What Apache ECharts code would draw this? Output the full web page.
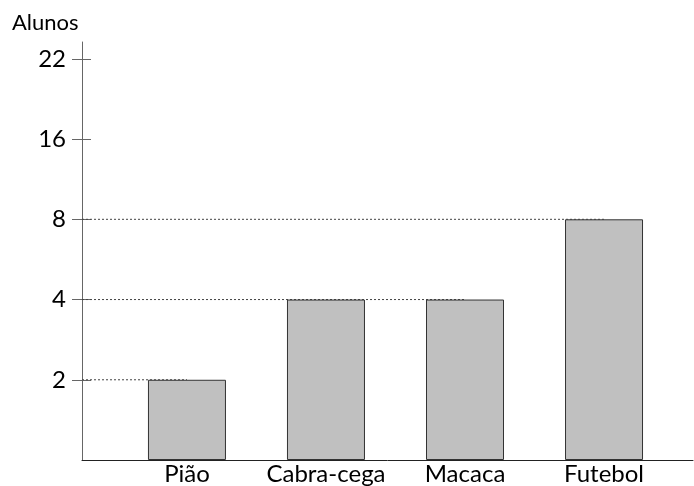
<!DOCTYPE html>
<html>
<head>
<meta charset="utf-8">
<script src="https://cdn.jsdelivr.net/npm/echarts@6/dist/echarts.min.js"></script>
<style>html,body{margin:0;padding:0;background:#fff;}#c{width:694px;height:486px;}</style>
</head>
<body>
<div id="c"></div>
<script>
const categories = ['Pião', 'Cabra-cega', 'Macaca', 'Futebol'];
const values = [2, 4, 4, 8];
const yTickLabels = [2, 4, 8, 16, 22];
const yAxisTitle = 'Alunos';

// the y axis is ordinal: each tick label sits one step above the previous
const levelOf = v => yTickLabels.indexOf(v) + 1;
const tickLevels = yTickLabels.map((v, i) => i + 1);

const X_MIN = -0.755, X_MAX = 3.64, Y_MAX = 5.21;
const FONT = 'Lato';

const barData = values.map((v, i) => [i, levelOf(v)]);

// dotted guides from the axis to the last bar that reaches each level
const guideSeries = [];
const seen = {};
values.forEach((v, i) => { seen[v] = i; });
Object.keys(seen).forEach(k => {
  const v = Number(k);
  guideSeries.push({
    type: 'line', silent: true, z: 1, symbol: 'none',
    lineStyle: { color: '#444', width: 1, type: [2, 2] },
    data: [[X_MIN, levelOf(v)], [seen[k], levelOf(v)]]
  });
});

const chart = echarts.init(document.getElementById('c'), null, { renderer: 'canvas' });
chart.setOption({
  animation: false,
  backgroundColor: '#fff',
  title: {
    text: yAxisTitle, left: 7, top: 7,
    textStyle: { fontFamily: FONT, fontSize: 22, fontWeight: 'normal', color: '#000' }
  },
  grid: { left: 82, right: 1, top: 42, bottom: 26 },
  xAxis: {
    type: 'value', min: X_MIN, max: X_MAX,
    splitLine: { show: false },
    axisLine: { show: true, onZero: false, lineStyle: { color: '#222', width: 1 } },
    axisTick: { show: false },
    axisLabel: {
      customValues: categories.map((c, i) => i),
      formatter: v => categories[Math.round(v)],
      color: '#000', fontFamily: FONT, fontSize: 24, margin: 2
    }
  },
  yAxis: [{
    type: 'value', min: 0, max: Y_MAX,
    splitLine: { show: false },
    axisLine: { show: true, onZero: false, lineStyle: { color: '#666', width: 1 } },
    axisTick: { show: true, customValues: tickLevels, length: 10, lineStyle: { color: '#666' } },
    axisLabel: {
      customValues: tickLevels,
      formatter: v => String(yTickLabels[Math.round(v) - 1]),
      color: '#000', fontFamily: FONT, fontSize: 24, margin: 16
    }
  }, {
    type: 'value', min: 0, max: Y_MAX, position: 'left',
    splitLine: { show: false },
    axisLine: { show: false, onZero: false },
    axisTick: { show: true, inside: true, customValues: tickLevels, length: 9, lineStyle: { color: '#666' } },
    axisLabel: { show: false }
  }],
  series: guideSeries.concat([{
    type: 'bar', z: 3, barWidth: 78,
    itemStyle: { color: '#c0c0c0', borderColor: '#333', borderWidth: 1 },
    data: barData
  }])
});
</script>
</body>
</html>
